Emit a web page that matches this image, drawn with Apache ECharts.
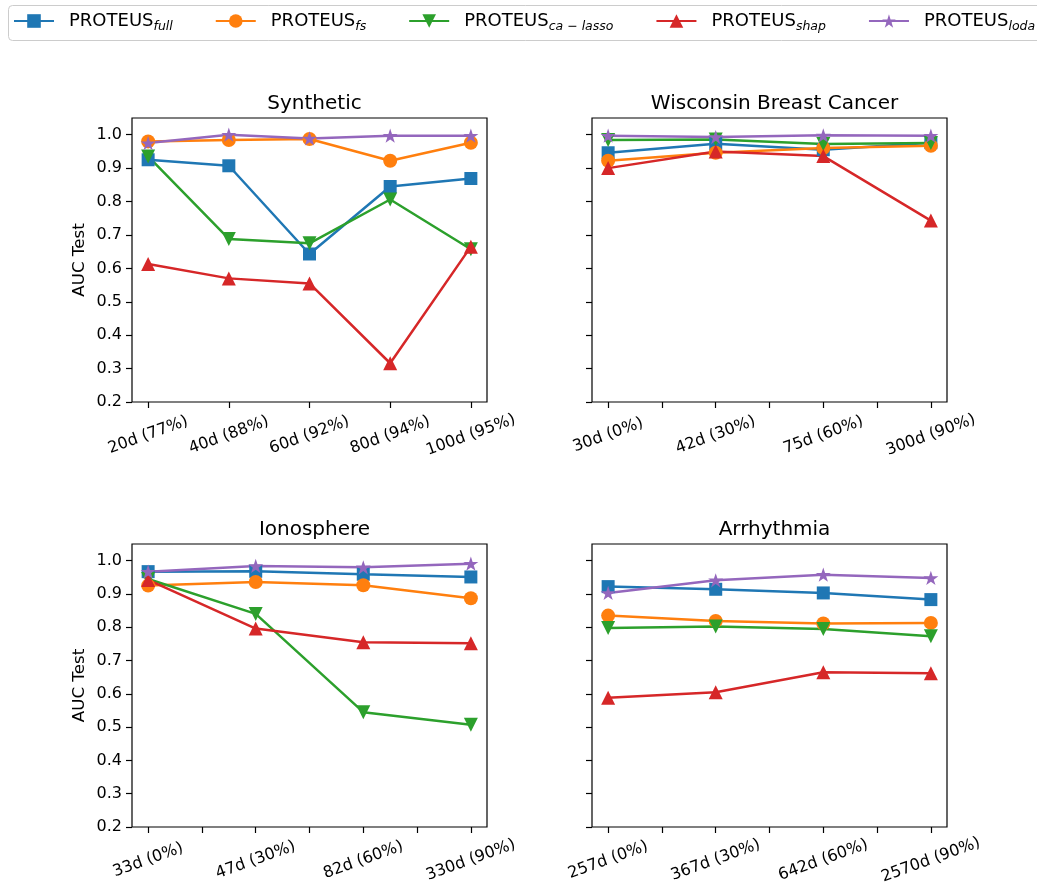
<!DOCTYPE html>
<html>
<head>
<meta charset="utf-8">
<script src="https://cdn.jsdelivr.net/npm/echarts@6/dist/echarts.min.js"></script>
<style>
html,body{margin:0;padding:0;background:#fff;}
#chart{width:1037px;height:889px;}
</style>
</head>
<body>
<div id="chart"></div>
<script>
// ---- data ----
const methods = ['full', 'fs', 'ca \u2212 lasso', 'shap', 'loda'];
const yTicks = [0.2, 0.3, 0.4, 0.5, 0.6, 0.7, 0.8, 0.9, 1.0];

const synthTitle = 'Synthetic';
const synthCats = ['20d (77%)', '40d (88%)', '60d (92%)', '80d (94%)', '100d (95%)'];
const synthFull = [0.925, 0.907, 0.643, 0.845, 0.869];
const synthFs = [0.980, 0.984, 0.987, 0.922, 0.976];
const synthCaLasso = [0.935, 0.688, 0.675, 0.806, 0.657];
const synthShap = [0.613, 0.570, 0.555, 0.316, 0.665];
const synthLoda = [0.975, 1.000, 0.989, 0.997, 0.997];

const wbcTitle = 'Wisconsin Breast Cancer';
const wbcCats = ['30d (0%)', '42d (30%)', '75d (60%)', '300d (90%)'];
const wbcFull = [0.946, 0.973, 0.955, 0.976];
const wbcFs = [0.922, 0.946, 0.960, 0.967];
const wbcCaLasso = [0.984, 0.986, 0.972, 0.975];
const wbcShap = [0.900, 0.950, 0.936, 0.743];
const wbcLoda = [0.997, 0.993, 0.998, 0.997];

const ionoTitle = 'Ionosphere';
const ionoCats = ['33d (0%)', '47d (30%)', '82d (60%)', '330d (90%)'];
const ionoFull = [0.967, 0.968, 0.959, 0.951];
const ionoFs = [0.925, 0.936, 0.926, 0.887];
const ionoCaLasso = [0.945, 0.840, 0.545, 0.507];
const ionoShap = [0.942, 0.796, 0.755, 0.752];
const ionoLoda = [0.967, 0.984, 0.980, 0.991];

const arrTitle = 'Arrhythmia';
const arrCats = ['257d (0%)', '367d (30%)', '642d (60%)', '2570d (90%)'];
const arrFull = [0.922, 0.914, 0.903, 0.883];
const arrFs = [0.835, 0.819, 0.811, 0.813];
const arrCaLasso = [0.798, 0.802, 0.795, 0.773];
const arrShap = [0.588, 0.605, 0.665, 0.662];
const arrLoda = [0.903, 0.941, 0.958, 0.948];

// ---- styling ----
const colors = ['#1f77b4', '#ff7f0e', '#2ca02c', '#d62728', '#9467bd'];
const starPath = 'path://M0,-100 L22.45,-30.9 L95.1,-30.9 L36.3,11.8 L58.8,80.9 L0,38.2 L-58.8,80.9 L-36.3,11.8 L-95.1,-30.9 L-22.45,-30.9 Z';
const symbols = ['rect', 'circle', 'triangle', 'triangle', starPath];
const symbolRot = [0, 0, 180, 0, 0];
const symbolSizes = [13, 14, 14, 14, 15];

const panels = [
  {title: synthTitle, cats: synthCats, vals: [synthFull, synthFs, synthCaLasso, synthShap, synthLoda], left: 132, top: 118, height: 284, yLabels: true},
  {title: wbcTitle, cats: wbcCats, vals: [wbcFull, wbcFs, wbcCaLasso, wbcShap, wbcLoda], left: 592, top: 118, height: 284, yLabels: false},
  {title: ionoTitle, cats: ionoCats, vals: [ionoFull, ionoFs, ionoCaLasso, ionoShap, ionoLoda], left: 132, top: 544, height: 283, yLabels: true},
  {title: arrTitle, cats: arrCats, vals: [arrFull, arrFs, arrCaLasso, arrShap, arrLoda], left: 592, top: 544, height: 283, yLabels: false}
];
const gridW = 355;
const FONT = 'DejaVu Sans';

const grids = [], xAxes = [], yAxes = [], titles = [], series = [];
panels.forEach((p, pi) => {
  const n = p.cats.length;
  const margin = (n - 1) * 0.05;
  grids.push({left: p.left, top: p.top, width: gridW, height: p.height, show: true,
    borderColor: '#000', borderWidth: 1.2, backgroundColor: 'transparent', containLabel: false});
  const ticks = [];
  if (n === 5) { for (let i = 0; i < n; i++) ticks.push(i); }
  else { for (let i = 0; i <= (n - 1) * 2; i++) ticks.push(i / 2); }
  const labelVals = p.cats.map((c, i) => i);
  xAxes.push({type: 'value', gridIndex: pi, min: -margin, max: (n - 1) + margin, position: 'bottom',
    axisLine: {show: false, onZero: false}, splitLine: {show: false},
    axisTick: {show: true, length: 6, customValues: ticks, lineStyle: {color: '#000', width: 1.2}},
    axisLabel: {show: true, customValues: labelVals, rotate: 20, align: 'center', verticalAlign: 'middle',
      margin: 33, fontSize: 16, fontFamily: FONT, color: '#000',
      formatter: v => p.cats[Math.round(v)]}
  });
  yAxes.push({type: 'value', gridIndex: pi, min: 0.2, max: 1.05, position: 'left',
    name: p.yLabels ? 'AUC Test' : '', nameLocation: 'middle', nameGap: 44,
    nameTextStyle: {fontSize: 16.7, fontFamily: FONT, color: '#000'},
    axisLine: {show: false, onZero: false}, splitLine: {show: false},
    axisTick: {show: true, length: 6, customValues: yTicks, lineStyle: {color: '#000', width: 1.2}},
    axisLabel: {show: p.yLabels, customValues: yTicks, margin: 10, fontSize: 16, fontFamily: FONT, color: '#000',
      formatter: v => v.toFixed(1)}
  });
  titles.push({text: p.title, left: p.left + gridW / 2, top: p.top - 29, textAlign: 'center',
    textStyle: {fontSize: 20, fontWeight: 'normal', fontFamily: FONT, color: '#000'}});
  p.vals.forEach((vals, si) => {
    series.push({
      name: 'PROTEUS_' + methods[si], type: 'line', xAxisIndex: pi, yAxisIndex: pi,
      data: vals.map((v, i) => [i, v]),
      symbol: symbols[si], symbolRotate: symbolRot[si], symbolSize: symbolSizes[si], symbolKeepAspect: true,
      showAllSymbol: true,
      lineStyle: {color: colors[si], width: 2.5},
      itemStyle: {color: colors[si], borderWidth: 0, opacity: 1},
      emphasis: {disabled: true},
      animation: false
    });
  });
});

const chart = echarts.init(document.getElementById('chart'), null, {renderer: 'canvas'});
chart.setOption({
  backgroundColor: '#fff',
  animation: false,
  color: colors,
  title: titles,
  graphic: [{
    type: 'rect', z: -1, silent: true,
    shape: {x: 8.5, y: 5.5, width: 1100, height: 35, r: 4},
    style: {fill: '#fff', stroke: '#cccccc', lineWidth: 1}
  }],
  legend: {
    left: 8, top: 5, width: 1400, orient: 'horizontal',
    data: methods.map(m => 'PROTEUS_' + m),
    itemWidth: 40, itemHeight: 17, itemGap: 42,
    padding: [7, 10, 9, 5],
    borderWidth: 0, backgroundColor: 'transparent',
    textStyle: {padding: [0, 0, 0, 10], fontFamily: FONT,
      rich: {
        m: {fontSize: 18, fontFamily: FONT, color: '#000', lineHeight: 24},
        s: {fontSize: 12.5, fontFamily: FONT, fontStyle: 'italic', color: '#000', verticalAlign: 'bottom', lineHeight: 14}
      }},
    formatter: name => '{m|PROTEUS}{s|' + name.replace('PROTEUS_', '') + '}',
    selectedMode: false
  },
  grid: grids,
  xAxis: xAxes,
  yAxis: yAxes,
  series: series
});
</script>
</body>
</html>
